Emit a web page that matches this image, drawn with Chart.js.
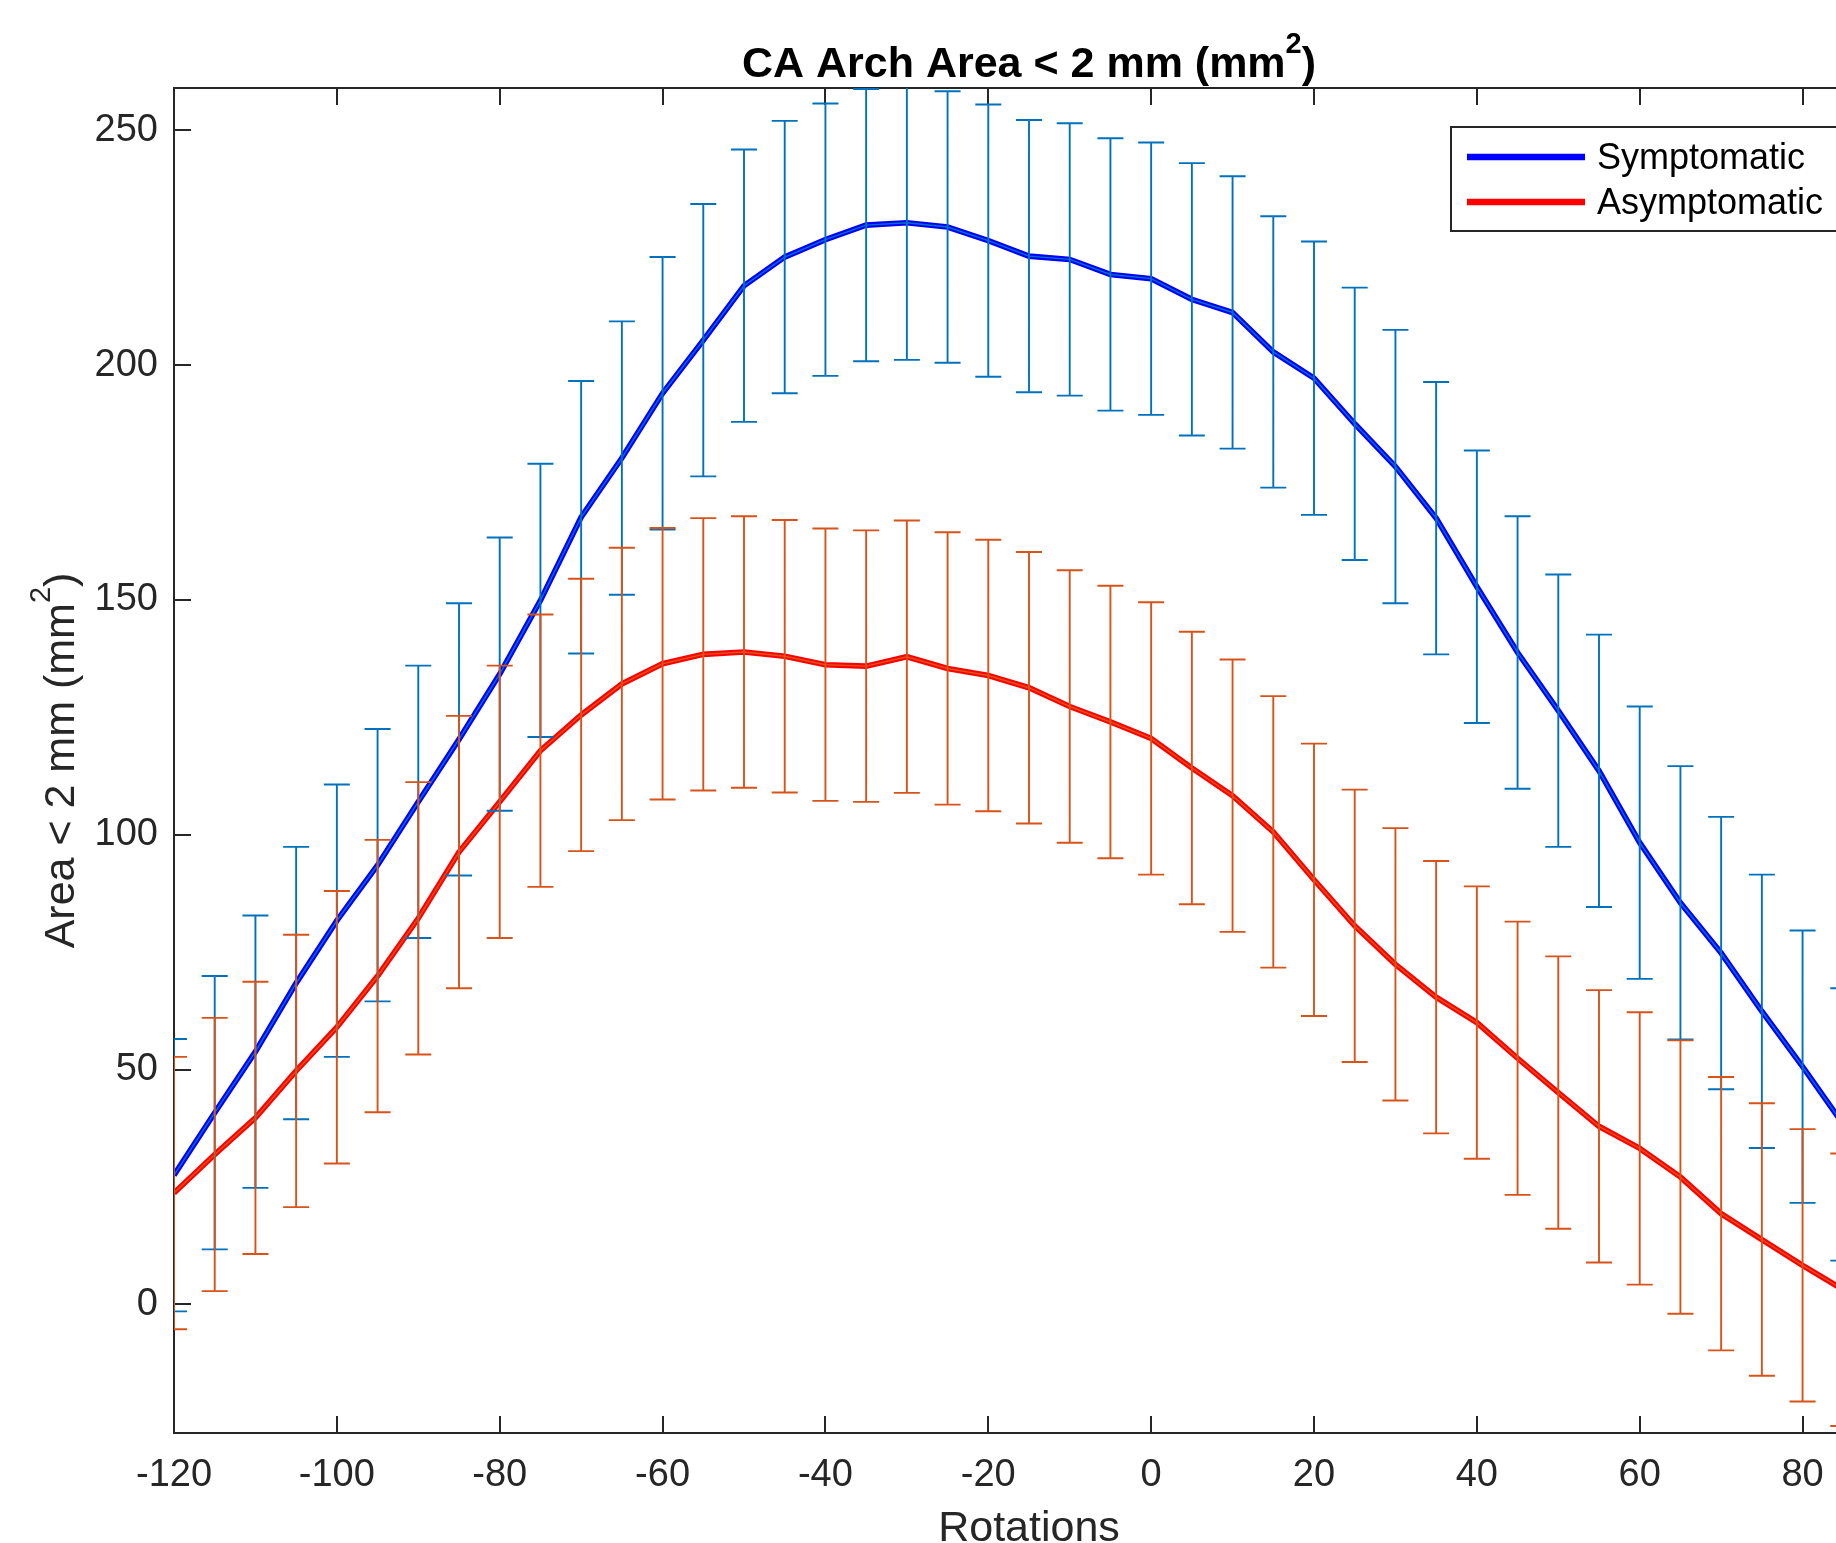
<!DOCTYPE html>
<html>
<head>
<meta charset="utf-8">
<title>CA Arch Area &lt; 2 mm</title>
<script src="https://cdn.jsdelivr.net/npm/chart.js@4.4.1/dist/chart.umd.min.js"></script>
<style>
  html, body { margin: 0; padding: 0; background: #fff; overflow: hidden; }
  /* the original figure is wider than the picture, so crop it */
  #frame { width: 1836px; height: 1543px; overflow: hidden; }
  #chart { display: block; }
</style>
</head>
<body>
<div id="frame"><canvas id="chart" width="1900" height="1543"></canvas></div>
<script>
// Data
const rotations = [-120, -115, -110, -105, -100, -95, -90, -85, -80, -75, -70, -65, -60, -55, -50, -45, -40, -35, -30, -25, -20,
  -15, -10, -5, 0, 5, 10, 15, 20, 25, 30, 35, 40, 45, 50, 55, 60, 65, 70, 75, 80, 85];

const symptomaticMean = [27.5, 40.8, 53.8, 68.4, 81.7, 93.5, 107.0, 120.3, 134.2, 149.9, 167.6, 180.2, 194.0, 205.3, 216.9, 223.0,
  226.7, 229.8, 230.3, 229.4, 226.5, 223.2, 222.5, 219.3, 218.4, 214.0, 211.2, 202.8, 197.2, 187.5, 178.4, 167.4, 152.8,
  138.8, 126.4, 113.6, 98.3, 85.5, 74.8, 62.4, 50.6, 38.3];
const symptomaticSd = [29.0, 29.1, 29.0, 29.0, 29.0, 29.0, 29.0, 29.0, 29.1, 29.1, 29.0, 29.1, 29.0, 29.0, 29.0, 29.0, 29.0,
  29.0, 29.2, 28.9, 29.0, 29.0, 29.0, 29.0, 29.0, 29.0, 29.0, 28.9, 29.1, 29.0, 29.1, 29.0, 29.0, 29.0, 29.0, 29.0, 29.0,
  29.1, 29.0, 29.1, 29.0, 29.0];

const asymptomaticMean = [23.7, 31.9, 39.7, 49.7, 59.0, 69.9, 82.2, 96.3, 107.0, 117.9, 125.5, 132.1, 136.4, 138.4, 138.9, 138.0,
  136.2, 135.9, 137.9, 135.4, 133.9, 131.3, 127.3, 124.0, 120.5, 114.2, 108.3, 100.6, 90.4, 80.6, 72.4, 65.4, 60.0, 52.4,
  45.1, 37.9, 33.2, 27.1, 19.3, 13.8, 8.3, 3.1];
const asymptomaticSd = [29.0, 29.1, 29.0, 29.0, 29.0, 29.0, 29.0, 29.0, 29.0, 29.0, 29.0, 29.0, 28.9, 29.0, 28.9, 29.0, 29.0,
  28.9, 29.0, 29.0, 28.9, 28.9, 29.0, 29.0, 29.0, 29.0, 29.0, 28.9, 29.0, 29.0, 29.0, 29.0, 29.0, 29.1, 29.0, 29.0, 29.0,
  29.1, 29.1, 29.0, 29.0, 29.0];

const xTicks = [-120, -100, -80, -60, -40, -20, 0, 20, 40, 60, 80];
const yTicks = [0, 50, 100, 150, 200, 250];

const AXIS_COLOR = '#262626';
const FONT = '"Liberation Sans", Arial, Helvetica, sans-serif';
const TICK_LEN = 17;

const toPoints = (values) => rotations.map((r, i) => ({ x: r, y: values[i] }));

const errorSeries = [
  { mean: symptomaticMean, sd: symptomaticSd, color: '#0072BD' },
  { mean: asymptomaticMean, sd: asymptomaticSd, color: '#D95319' }
];

// Box and inward ticks, drawn under the data like MATLAB does
const axesBox = {
  id: 'axesBox',
  beforeDatasetsDraw(chart) {
    const { ctx, chartArea: a, scales: { x, y } } = chart;
    ctx.save();
    ctx.strokeStyle = AXIS_COLOR;
    ctx.lineWidth = 2;
    ctx.beginPath();
    ctx.rect(a.left, a.top, a.right - a.left, a.bottom - a.top);
    xTicks.forEach(v => {
      const px = Math.round(x.getPixelForValue(v));
      ctx.moveTo(px, a.bottom); ctx.lineTo(px, a.bottom - TICK_LEN);
      ctx.moveTo(px, a.top); ctx.lineTo(px, a.top + TICK_LEN);
    });
    yTicks.forEach(v => {
      const py = Math.round(y.getPixelForValue(v));
      ctx.moveTo(a.left, py); ctx.lineTo(a.left + TICK_LEN, py);
      ctx.moveTo(a.right, py); ctx.lineTo(a.right - TICK_LEN, py);
    });
    ctx.stroke();
    ctx.restore();
  }
};

// Vertical error bars with caps
const errorBars = {
  id: 'errorBars',
  afterDatasetsDraw(chart) {
    const { ctx, chartArea: a, scales: { x, y } } = chart;
    ctx.save();
    ctx.beginPath();
    ctx.rect(a.left, a.top, a.right - a.left, a.bottom - a.top);
    ctx.clip();
    ctx.lineWidth = 1.9;
    errorSeries.forEach(s => {
      ctx.strokeStyle = s.color;
      ctx.beginPath();
      rotations.forEach((r, i) => {
        const px = x.getPixelForValue(r);
        const hi = y.getPixelForValue(s.mean[i] + s.sd[i]);
        const lo = y.getPixelForValue(s.mean[i] - s.sd[i]);
        ctx.moveTo(px, hi); ctx.lineTo(px, lo);
        ctx.moveTo(px - 13, hi); ctx.lineTo(px + 13, hi);
        ctx.moveTo(px - 13, lo); ctx.lineTo(px + 13, lo);
      });
      ctx.stroke();
    });
    ctx.restore();
  }
};

// Draws "text" followed by a superscript 2 and a closing bracket, centred on 0
function drawWithSquare(ctx, head, size, weight) {
  const main = `${weight} ${size}px ${FONT}`;
  const sup = `${weight} ${Math.round(size * 0.68)}px ${FONT}`;
  ctx.font = main;
  const w1 = ctx.measureText(head).width;
  const w3 = ctx.measureText(')').width;
  ctx.font = sup;
  const w2 = ctx.measureText('2').width;
  let cx = -(w1 + w2 + w3) / 2;
  ctx.textAlign = 'left';
  ctx.textBaseline = 'alphabetic';
  ctx.font = main;
  ctx.fillText(head, cx, 0);
  cx += w1;
  ctx.font = sup;
  ctx.fillText('2', cx, -size * 0.55);
  cx += w2;
  ctx.font = main;
  ctx.fillText(')', cx, 0);
}

const annotations = {
  id: 'annotations',
  afterDraw(chart) {
    const { ctx, chartArea: a } = chart;
    const midX = (a.left + a.right) / 2;
    const midY = (a.top + a.bottom) / 2;
    ctx.save();
    ctx.fillStyle = '#000';
    ctx.translate(midX, 77);
    drawWithSquare(ctx, 'CA Arch Area < 2 mm (mm', 43, 'bold');
    ctx.restore();

    ctx.save();
    ctx.fillStyle = AXIS_COLOR;
    ctx.translate(74, midY);
    ctx.rotate(-Math.PI / 2);
    drawWithSquare(ctx, 'Area < 2 mm (mm', 43, 'normal');
    ctx.restore();

    ctx.save();
    ctx.fillStyle = AXIS_COLOR;
    ctx.font = `43px ${FONT}`;
    ctx.textAlign = 'center';
    ctx.textBaseline = 'alphabetic';
    ctx.fillText('Rotations', midX, 1541);
    ctx.restore();

    // legend box
    const items = chart.data.datasets.filter(d => d.inLegend);
    const box = { left: 1451, top: 127, right: 1872, bottom: 231 };
    ctx.save();
    ctx.fillStyle = '#fff';
    ctx.fillRect(box.left, box.top, box.right - box.left, box.bottom - box.top);
    ctx.strokeStyle = AXIS_COLOR;
    ctx.lineWidth = 2;
    ctx.strokeRect(box.left, box.top, box.right - box.left, box.bottom - box.top);
    ctx.font = `36px ${FONT}`;
    ctx.textAlign = 'left';
    ctx.textBaseline = 'middle';
    items.forEach((d, i) => {
      const ly = 157 + i * 45;
      ctx.strokeStyle = d.borderColor;
      ctx.lineWidth = 6.5;
      ctx.beginPath();
      ctx.moveTo(1467, ly); ctx.lineTo(1585, ly);
      ctx.stroke();
      ctx.fillStyle = '#000';
      ctx.fillText(d.label, 1597, ly + 2);
    });
    ctx.restore();
  }
};

const ctx = document.getElementById('chart');
new Chart(ctx, {
  type: 'line',
  data: {
    datasets: [
      { label: 'Symptomatic', inLegend: true, data: toPoints(symptomaticMean), borderColor: '#0000FF', borderWidth: 5.6, order: 3 },
      { label: 'Asymptomatic', inLegend: true, data: toPoints(asymptomaticMean), borderColor: '#FF0000', borderWidth: 5.6, order: 2 },
      // thin errorbar connector lines show through the middle of the thick lines
      { label: 'sym-err', data: toPoints(symptomaticMean), borderColor: '#0072BD', borderWidth: 1.4, order: 1 },
      { label: 'asym-err', data: toPoints(asymptomaticMean), borderColor: '#D95319', borderWidth: 1.4, order: 0 }
    ]
  },
  options: {
    responsive: false,
    animation: false,
    events: [],
    layout: { padding: { top: 88, right: 16, left: 0, bottom: 0 } },
    elements: { point: { radius: 0 }, line: { tension: 0, fill: false } },
    plugins: { legend: { display: false }, tooltip: { enabled: false }, title: { display: false } },
    scales: {
      x: {
        type: 'linear',
        min: -120,
        max: 90,
        grid: { display: false, drawTicks: false },
        border: { display: false },
        afterBuildTicks: (scale) => { scale.ticks = xTicks.map(v => ({ value: v })); },
        afterFit: (scale) => { scale.height = 110; },
        ticks: { color: AXIS_COLOR, padding: 20, maxRotation: 0, font: { family: FONT, size: 38 } }
      },
      y: {
        type: 'linear',
        min: -27.4,
        max: 259.0,
        grid: { display: false, drawTicks: false },
        border: { display: false },
        afterBuildTicks: (scale) => { scale.ticks = yTicks.map(v => ({ value: v })); },
        afterFit: (scale) => { scale.width = 174; },
        ticks: { color: AXIS_COLOR, padding: 16, font: { family: FONT, size: 38 } }
      }
    }
  },
  plugins: [axesBox, errorBars, annotations]
});
</script>
</body>
</html>
